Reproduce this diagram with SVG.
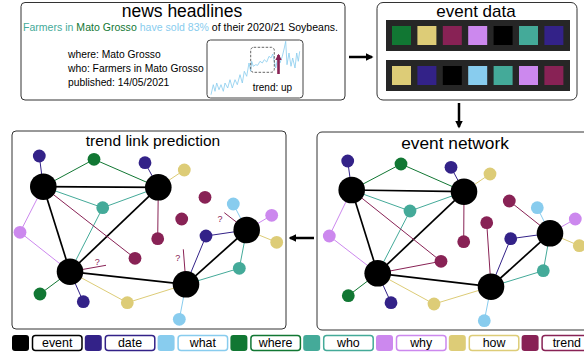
<svg xmlns="http://www.w3.org/2000/svg" width="584" height="356" viewBox="0 0 584 356">
  <style>
    text { font-family: "Liberation Sans", Arial, sans-serif; fill: #000; }
    .panel { fill: #fff; stroke: #333; stroke-width: 1; }
    .title { text-anchor: middle; }
    .bar { fill: #262626; }
    .big { fill: #000; }
    .e-blk { stroke: #000; stroke-width: 1.7; }
    .e { stroke-width: 1; fill: none; }
    .c-ind { fill: #332288; } .s-ind { stroke: #332288; }
    .c-cyn { fill: #88ccee; } .s-cyn { stroke: #88ccee; }
    .c-grn { fill: #117733; } .s-grn { stroke: #117733; }
    .c-tel { fill: #44aa99; } .s-tel { stroke: #44aa99; }
    .c-lil { fill: #cc88ee; } .s-lil { stroke: #cc88ee; }
    .c-snd { fill: #ddcc77; } .s-snd { stroke: #ddcc77; }
    .c-win { fill: #882255; } .s-win { stroke: #882255; }
    .c-blk { fill: #000; } .s-blk { stroke: #000; }
    .flow { stroke: #000; stroke-width: 2.5; fill: none; }
    .lab { fill: #fff; stroke-width: 1.5; }
    .labtxt { font-size: 12.4px; text-anchor: middle; }
    .q { font-size: 9px; fill: #882255; text-anchor: middle; }
    .info { font-size: 10.3px; }
  </style>
  <defs>
    <marker id="head" viewBox="0 0 10 10" refX="8" refY="5" markerWidth="3" markerHeight="3" orient="auto">
      <path d="M0,0 L10,5 L0,10 z" fill="#000"/>
    </marker>
    <marker id="headWine" viewBox="0 0 10 10" refX="8" refY="5" markerWidth="2.6" markerHeight="2.6" orient="auto">
      <path d="M0,0 L10,5 L0,10 z" fill="#882255"/>
    </marker>
  </defs>

  <!-- news headlines panel -->
  <g id="news-headlines">
    <rect class="panel" x="21" y="2.5" width="324" height="97.5" rx="4"/>
    <text class="title" x="182" y="16.5" font-size="17.5">news headlines</text>
    <text x="23" y="31" font-size="10.5" textLength="315" lengthAdjust="spacing"><tspan fill="#44aa99">Farmers in </tspan><tspan fill="#117733">Mato Grosso</tspan><tspan fill="#88ccee"> have sold 83%</tspan><tspan> of their 2020/21 Soybeans.</tspan></text>
    <text class="info" x="68" y="57.5">where: Mato Grosso</text>
    <text class="info" x="68" y="72">who: Farmers in Mato Grosso</text>
    <text class="info" x="68" y="86">published: 14/05/2021</text>
    <g id="trend-chart">
      <rect x="207" y="40" width="96" height="58" rx="3.5" fill="#fff" stroke="#444" stroke-width="1"/>
      <polyline fill="none" stroke="#88ccee" stroke-width="0.8" points="211,94.7 213.3,84.7 215,91.3 216.7,83 219,89.7 221,84.7 223.3,91.3 225,83 227.7,88 230,79.7 232.3,88 235,79.7 237.3,84.7 240,74.7 242.3,83 244.3,71.3 246.7,76.3 249,63 250.7,71.3 251.7,61.3 253.3,66.3 255.7,64.7 257.7,65.3 260,61.3 262.3,63 264.3,59.7 266.7,62 269,56.3 271,58 272.7,54 274.3,61.3 275.7,68 277.7,58 280,63 282.3,56.3 284.3,48 285.7,41.3 287,64.7 289,53 291,66.3 292.7,58 295,68 296.7,53 298.3,61.3 299.7,51.3"/>
      <rect x="250.7" y="47.3" width="23.6" height="25" rx="3" fill="none" stroke="#555" stroke-width="0.9" stroke-dasharray="2.5,1.5"/>
      <line x1="278.5" y1="74" x2="278.5" y2="55" stroke="#882255" stroke-width="2.6" marker-end="url(#headWine)"/>
      <text x="252.7" y="91.3" font-size="10">trend: up</text>
    </g>
  </g>

  <!-- event data panel -->
  <g id="event-data">
    <rect class="panel" x="377" y="2.5" width="200" height="97.5" rx="6"/>
    <text class="title" x="476" y="17" font-size="17">event data</text>
    <rect class="bar" x="386" y="20" width="184" height="31"/>
    <rect class="bar" x="386" y="60" width="184" height="31"/>
    <g id="record-1">
      <rect class="c-grn" x="392" y="26" width="19" height="19"/>
      <rect class="c-snd" x="417.4" y="26" width="19" height="19"/>
      <rect class="c-win" x="442.8" y="26" width="19" height="19"/>
      <rect class="c-lil" x="468.2" y="26" width="19" height="19"/>
      <rect class="c-blk" x="493.6" y="26" width="19" height="19"/>
      <rect class="c-tel" x="519" y="26" width="19" height="19"/>
      <rect class="c-ind" x="544.4" y="26" width="19" height="19"/>
    </g>
    <g id="record-2">
      <rect class="c-snd" x="392" y="66" width="19" height="19"/>
      <rect class="c-ind" x="417.4" y="66" width="19" height="19"/>
      <rect class="c-blk" x="442.8" y="66" width="19" height="19"/>
      <rect class="c-cyn" x="468.2" y="66" width="19" height="19"/>
      <rect class="c-tel" x="493.6" y="66" width="19" height="19"/>
      <rect class="c-lil" x="519" y="66" width="19" height="19"/>
      <rect class="c-win" x="544.4" y="66" width="19" height="19"/>
    </g>
  </g>

  <!-- pipeline arrows -->
  <g id="flow-arrows">
    <line class="flow" x1="349" y1="57" x2="372" y2="57" marker-end="url(#head)"/>
    <line class="flow" x1="459" y1="103" x2="459" y2="127" marker-end="url(#head)"/>
    <line class="flow" x1="314" y1="238" x2="290" y2="238" marker-end="url(#head)"/>
  </g>

  <!-- event network panel -->
  <g id="event-network">
    <rect class="panel" x="317" y="132" width="275" height="198" rx="5"/>
    <text class="title" x="455" y="148.5" font-size="17.3">event network</text>
    <g id="event-network-connectors">
      <line class="e-blk" x1="351.7" y1="190" x2="464" y2="191.7"/>
      <line class="e-blk" x1="351.7" y1="190" x2="377.7" y2="273.3"/>
      <line class="e-blk" x1="464" y1="191.7" x2="377.7" y2="273.3"/>
      <line class="e-blk" x1="377.7" y1="273.3" x2="491" y2="286.7"/>
      <line class="e-blk" x1="491" y1="286.7" x2="550" y2="233.3"/>
      <line class="e s-ind" x1="351.7" y1="190" x2="347.7" y2="161"/>
      <line class="e s-grn" x1="351.7" y1="190" x2="401" y2="164"/>
      <line class="e s-grn" x1="401" y1="164" x2="464" y2="191.7"/>
      <line class="e s-ind" x1="464" y1="191.7" x2="451" y2="167.3"/>
      <line class="e s-snd" x1="464" y1="191.7" x2="490" y2="174"/>
      <line class="e s-tel" x1="351.7" y1="190" x2="410" y2="211"/>
      <line class="e s-tel" x1="410" y1="211" x2="464" y2="191.7"/>
      <line class="e s-tel" x1="410" y1="211" x2="377.7" y2="273.3"/>
      <line class="e s-lil" x1="351.7" y1="190" x2="329.3" y2="236"/>
      <line class="e s-lil" x1="329.3" y1="236" x2="377.7" y2="273.3"/>
      <line class="e s-win" x1="351.7" y1="190" x2="441" y2="261.3"/>
      <line class="e s-win" x1="377.7" y1="273.3" x2="441" y2="261.3"/>
      <line class="e s-win" x1="464" y1="191.7" x2="463.7" y2="241.7"/>
      <line class="e s-win" x1="491" y1="286.7" x2="486.7" y2="222.7"/>
      <line class="e s-win" x1="509.3" y1="201" x2="550" y2="233.3"/>
      <line class="e s-cyn" x1="537.3" y1="207.7" x2="550" y2="233.3"/>
      <line class="e s-lil" x1="550" y1="233.3" x2="575.3" y2="219"/>
      <line class="e s-snd" x1="550" y1="233.3" x2="579.3" y2="245.7"/>
      <line class="e s-ind" x1="510.7" y1="238.7" x2="550" y2="233.3"/>
      <line class="e s-ind" x1="510.7" y1="238.7" x2="491" y2="286.7"/>
      <line class="e s-tel" x1="550" y1="233.3" x2="543.3" y2="270.7"/>
      <line class="e s-tel" x1="543.3" y1="270.7" x2="491" y2="286.7"/>
      <line class="e s-grn" x1="377.7" y1="273.3" x2="348.3" y2="295.7"/>
      <line class="e s-ind" x1="377.7" y1="273.3" x2="391" y2="302.7"/>
      <line class="e s-snd" x1="377.7" y1="273.3" x2="434" y2="304"/>
      <line class="e s-snd" x1="434" y1="304" x2="491" y2="286.7"/>
      <line class="e s-cyn" x1="491" y1="286.7" x2="484.3" y2="320.7"/>
    </g>
    <g id="net-ind1"><circle class="c-ind" cx="347.7" cy="161" r="6.4"/></g>
    <g id="net-grn1"><circle class="c-grn" cx="401" cy="164" r="6.4"/></g>
    <g id="net-ind2"><circle class="c-ind" cx="451" cy="167.3" r="6.4"/></g>
    <g id="net-snd1"><circle class="c-snd" cx="490" cy="174" r="6.4"/></g>
    <g id="net-lil1"><circle class="c-lil" cx="329.3" cy="236" r="6.4"/></g>
    <g id="net-tel1"><circle class="c-tel" cx="410" cy="211" r="6.4"/></g>
    <g id="net-win1"><circle class="c-win" cx="463.7" cy="241.7" r="6.4"/></g>
    <g id="net-win2"><circle class="c-win" cx="441" cy="261.3" r="6.4"/></g>
    <g id="net-win3"><circle class="c-win" cx="486.7" cy="222.7" r="6.4"/></g>
    <g id="net-win4"><circle class="c-win" cx="509.3" cy="201" r="6.4"/></g>
    <g id="net-cyn1"><circle class="c-cyn" cx="537.3" cy="207.7" r="6.4"/></g>
    <g id="net-lil2"><circle class="c-lil" cx="575.3" cy="219" r="6.4"/></g>
    <g id="net-snd2"><circle class="c-snd" cx="579.3" cy="245.7" r="6.4"/></g>
    <g id="net-ind3"><circle class="c-ind" cx="510.7" cy="238.7" r="6.4"/></g>
    <g id="net-tel2"><circle class="c-tel" cx="543.3" cy="270.7" r="6.4"/></g>
    <g id="net-grn2"><circle class="c-grn" cx="348.3" cy="295.7" r="6.4"/></g>
    <g id="net-ind4"><circle class="c-ind" cx="391" cy="302.7" r="6.4"/></g>
    <g id="net-snd3"><circle class="c-snd" cx="434" cy="304" r="6.4"/></g>
    <g id="net-cyn2"><circle class="c-cyn" cx="484.3" cy="320.7" r="6.4"/></g>
    <g id="net-event-a"><circle class="big" cx="351.7" cy="190" r="13.3"/></g>
    <g id="net-event-b"><circle class="big" cx="464" cy="191.7" r="13.3"/></g>
    <g id="net-event-c"><circle class="big" cx="377.7" cy="273.3" r="13.3"/></g>
    <g id="net-event-d"><circle class="big" cx="491" cy="286.7" r="13.3"/></g>
    <g id="net-event-e"><circle class="big" cx="550" cy="233.3" r="13.3"/></g>
  </g>

  <!-- trend link prediction panel -->
  <g id="trend-link-prediction">
    <rect class="panel" x="12" y="131" width="274" height="198" rx="4"/>
    <text class="title" x="153" y="145.7" font-size="15.5">trend link prediction</text>
    <g id="prediction-connectors">
      <line class="e-blk" x1="43.3" y1="186.7" x2="158.3" y2="187.3"/>
      <line class="e-blk" x1="43.3" y1="186.7" x2="70" y2="271.7"/>
      <line class="e-blk" x1="158.3" y1="187.3" x2="70" y2="271.7"/>
      <line class="e-blk" x1="70" y1="271.7" x2="186" y2="284.3"/>
      <line class="e-blk" x1="186" y1="284.3" x2="246.7" y2="230"/>
      <line class="e s-ind" x1="43.3" y1="186.7" x2="39.3" y2="156"/>
      <line class="e s-grn" x1="43.3" y1="186.7" x2="94" y2="159.3"/>
      <line class="e s-grn" x1="94" y1="159.3" x2="158.3" y2="187.3"/>
      <line class="e s-ind" x1="158.3" y1="187.3" x2="145" y2="162.7"/>
      <line class="e s-snd" x1="158.3" y1="187.3" x2="184.3" y2="170"/>
      <line class="e s-tel" x1="43.3" y1="186.7" x2="102.7" y2="207.7"/>
      <line class="e s-tel" x1="102.7" y1="207.7" x2="158.3" y2="187.3"/>
      <line class="e s-tel" x1="102.7" y1="207.7" x2="70" y2="271.7"/>
      <line class="e s-lil" x1="43.3" y1="186.7" x2="20" y2="232.3"/>
      <line class="e s-lil" x1="20" y1="232.3" x2="70" y2="271.7"/>
      <line class="e s-win" x1="43.3" y1="186.7" x2="135" y2="258.3"/>
      <line class="e s-win" x1="158.3" y1="187.3" x2="157.7" y2="238.7"/>
      <line class="e s-cyn" x1="233.3" y1="204" x2="246.7" y2="230"/>
      <line class="e s-lil" x1="246.7" y1="230" x2="271.7" y2="215.3"/>
      <line class="e s-snd" x1="246.7" y1="230" x2="276.7" y2="242.3"/>
      <line class="e s-ind" x1="206" y1="236" x2="246.7" y2="230"/>
      <line class="e s-ind" x1="206" y1="236" x2="186" y2="284.3"/>
      <line class="e s-tel" x1="246.7" y1="230" x2="239.3" y2="268.3"/>
      <line class="e s-tel" x1="239.3" y1="268.3" x2="186" y2="284.3"/>
      <line class="e s-grn" x1="70" y1="271.7" x2="40" y2="294"/>
      <line class="e s-ind" x1="70" y1="271.7" x2="83.3" y2="301.7"/>
      <line class="e s-snd" x1="70" y1="271.7" x2="127.3" y2="302.7"/>
      <line class="e s-snd" x1="127.3" y1="302.7" x2="186" y2="284.3"/>
      <line class="e s-cyn" x1="186" y1="284.3" x2="179.3" y2="319.3"/>
      <!-- open trend links still to be predicted -->
      <line class="e s-win" x1="70" y1="271.7" x2="106" y2="265.3"/>
      <line class="e s-win" x1="186" y1="284.3" x2="183.3" y2="249.3"/>
      <line class="e s-win" x1="246.7" y1="230" x2="224.3" y2="212.7"/>
    </g>
    <text class="q" x="97.3" y="265">?</text>
    <text class="q" x="177.7" y="261">?</text>
    <text class="q" x="220" y="221.5">?</text>
    <g id="pred-ind1"><circle class="c-ind" cx="39.3" cy="156" r="6.4"/></g>
    <g id="pred-grn1"><circle class="c-grn" cx="94" cy="159.3" r="6.4"/></g>
    <g id="pred-ind2"><circle class="c-ind" cx="145" cy="162.7" r="6.4"/></g>
    <g id="pred-snd1"><circle class="c-snd" cx="184.3" cy="170" r="6.4"/></g>
    <g id="pred-lil1"><circle class="c-lil" cx="20" cy="232.3" r="6.4"/></g>
    <g id="pred-tel1"><circle class="c-tel" cx="102.7" cy="207.7" r="6.4"/></g>
    <g id="pred-win1"><circle class="c-win" cx="157.7" cy="238.7" r="6.4"/></g>
    <g id="pred-win2"><circle class="c-win" cx="135" cy="258.3" r="6.4"/></g>
    <g id="pred-win3"><circle class="c-win" cx="181.7" cy="219" r="6.4"/></g>
    <g id="pred-win4"><circle class="c-win" cx="205" cy="197.3" r="6.4"/></g>
    <g id="pred-cyn1"><circle class="c-cyn" cx="233.3" cy="204" r="6.4"/></g>
    <g id="pred-lil2"><circle class="c-lil" cx="271.7" cy="215.3" r="6.4"/></g>
    <g id="pred-snd2"><circle class="c-snd" cx="276.7" cy="242.3" r="6.4"/></g>
    <g id="pred-ind3"><circle class="c-ind" cx="206" cy="236" r="6.4"/></g>
    <g id="pred-tel2"><circle class="c-tel" cx="239.3" cy="268.3" r="6.4"/></g>
    <g id="pred-grn2"><circle class="c-grn" cx="40" cy="294" r="6.4"/></g>
    <g id="pred-ind4"><circle class="c-ind" cx="83.3" cy="301.7" r="6.4"/></g>
    <g id="pred-snd3"><circle class="c-snd" cx="127.3" cy="302.7" r="6.4"/></g>
    <g id="pred-cyn2"><circle class="c-cyn" cx="179.3" cy="319.3" r="6.4"/></g>
    <g id="pred-event-a"><circle class="big" cx="43.3" cy="186.7" r="13.3"/></g>
    <g id="pred-event-b"><circle class="big" cx="158.3" cy="187.3" r="13.3"/></g>
    <g id="pred-event-c"><circle class="big" cx="70" cy="271.7" r="13.3"/></g>
    <g id="pred-event-d"><circle class="big" cx="186" cy="284.3" r="13.3"/></g>
    <g id="pred-event-e"><circle class="big" cx="246.7" cy="230" r="13.3"/></g>
  </g>

  <!-- legend -->
  <g id="legend">
    <rect class="c-blk" x="12" y="335" width="17" height="16" rx="3"/>
    <rect class="lab s-blk" x="32.5" y="335.5" width="49.5" height="15" rx="3"/>
    <text class="labtxt" x="57.2" y="346.5">event</text>
    <rect class="c-ind" x="84.8" y="335" width="17" height="16" rx="3"/>
    <rect class="lab s-ind" x="105.3" y="335.5" width="49.5" height="15" rx="3"/>
    <text class="labtxt" x="130" y="346.5">date</text>
    <rect class="c-cyn" x="157.6" y="335" width="17" height="16" rx="3"/>
    <rect class="lab s-cyn" x="178.1" y="335.5" width="49.5" height="15" rx="3"/>
    <text class="labtxt" x="202.8" y="346.5">what</text>
    <rect class="c-grn" x="230.4" y="335" width="17" height="16" rx="3"/>
    <rect class="lab s-grn" x="250.9" y="335.5" width="49.5" height="15" rx="3"/>
    <text class="labtxt" x="275.6" y="346.5">where</text>
    <rect class="c-tel" x="303.2" y="335" width="17" height="16" rx="3"/>
    <rect class="lab s-tel" x="323.7" y="335.5" width="49.5" height="15" rx="3"/>
    <text class="labtxt" x="348.4" y="346.5">who</text>
    <rect class="c-lil" x="376" y="335" width="17" height="16" rx="3"/>
    <rect class="lab s-lil" x="396.5" y="335.5" width="49.5" height="15" rx="3"/>
    <text class="labtxt" x="421.2" y="346.5">why</text>
    <rect class="c-snd" x="448.8" y="335" width="17" height="16" rx="3"/>
    <rect class="lab s-snd" x="469.3" y="335.5" width="49.5" height="15" rx="3"/>
    <text class="labtxt" x="494" y="346.5">how</text>
    <rect class="c-win" x="521.6" y="335" width="17" height="16" rx="3"/>
    <rect class="lab s-win" x="542.1" y="335.5" width="49.5" height="15" rx="3"/>
    <text class="labtxt" x="566.8" y="346.5">trend</text>
  </g>
</svg>
